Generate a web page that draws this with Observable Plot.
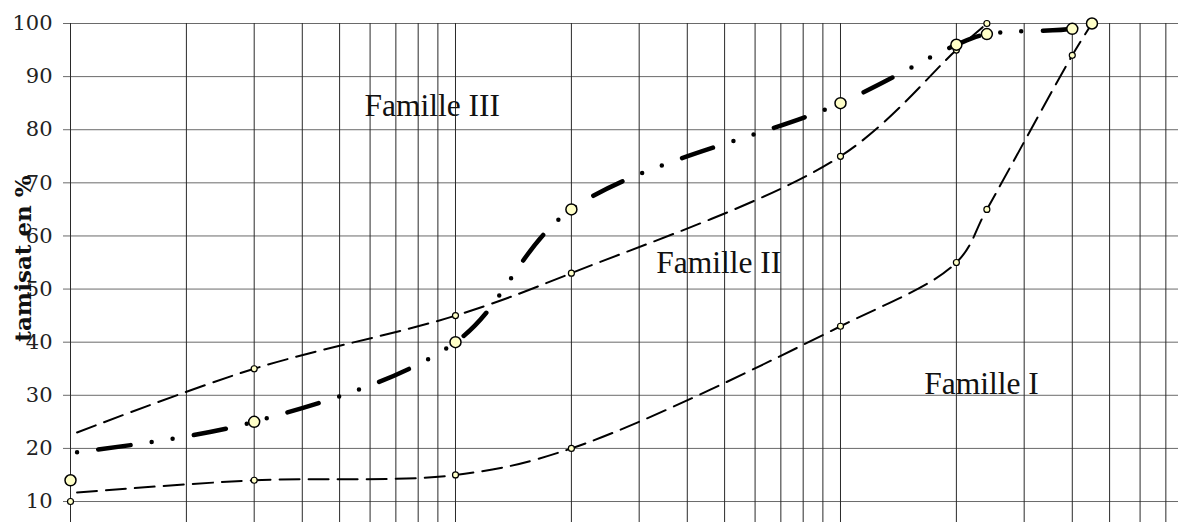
<!DOCTYPE html>
<html><head><meta charset="utf-8">
<script src="https://cdn.jsdelivr.net/npm/d3@7"></script>
<script src="https://cdn.jsdelivr.net/npm/@observablehq/plot@0.6"></script>
<style>body{margin:0;background:#fff}</style>
</head><body><div id="chart"></div>
<script>
// sieve sizes (relative, log scale) and % passing ("tamisat")
const sieves = [0.1, 0.3, 1, 2, 10, 20, 24, 40, 45];
const familleI = [10, 14, 15, 20, 43, 55, 65, 94, 100];
const familleII = [null, 35, 45, 53, 75, 95, 100, null, null];
const familleIII = [14, 25, 40, 65, 85, 96, 98, 99, 100];
// the drawn curves start slightly right of the first sieve
const curveStartSize = 0.104;
const curveStartI = 11.7;
const curveStartII = 23;
const curveStartIII = 19.3;

const yTicks = [10, 20, 30, 40, 50, 60, 70, 80, 90, 100];
const yTitle = "tamisat en %";
const labelTexts = ["Famille III", "Famille II", "Famille I"];
const labelSizes = [0.58, 3.32, 16.5];
const labelPcts = [84.45, 54.9, 32.05];
const xDomain = [0.1, 75.5];
const yDomain = [6.05, 100];

function curve(start, arr) {
  const pts = [{s: curveStartSize, p: start}];
  sieves.forEach((s, i) => { if (i > 0 && arr[i] != null) pts.push({s, p: arr[i]}); });
  return pts;
}
function marks(arr) {
  return sieves.map((s, i) => ({s, p: arr[i]})).filter(d => d.p != null);
}
const xGrid = d3.scaleLog().domain(xDomain).ticks();
const labels = labelTexts.map((t, i) => ({t, s: labelSizes[i], p: labelPcts[i]}));

const chart = Plot.plot({
  width: 1178, height: 522,
  marginLeft: 70, marginRight: 0, marginTop: 23, marginBottom: 0,
  style: {fontFamily: "DejaVu Serif", background: "#fff"},
  x: {type: "log", domain: xDomain, axis: null},
  y: {domain: yDomain},
  marks: [
    Plot.ruleY(yTicks, {stroke: "#6a6a6a", strokeWidth: 1}),
    Plot.ruleX(xGrid, {stroke: "#2a2a2a", strokeWidth: 1}),
    Plot.axisY({ticks: yTicks, tickSize: 7, tickPadding: 11, stroke: "#6a6a6a", fill: "#222",
      fontSize: 21, fontFamily: "DejaVu Serif", label: null}),
    Plot.text([yTitle], {frameAnchor: "left", textAnchor: "middle", dx: -47, dy: -14.5, rotate: -90,
      fontSize: 23, fontWeight: "bold", fontFamily: "DejaVu Serif", fill: "#111"}),
    Plot.text(labels, {x: "s", y: "p", text: "t", textAnchor: "start", fontSize: 31.5,
      fontFamily: "Liberation Serif", fill: "#111"}),
    Plot.line(curve(curveStartI, familleI), {x: "s", y: "p", curve: "catmull-rom",
      stroke: "#000", strokeWidth: 2, strokeDasharray: "20,9"}),
    Plot.line(curve(curveStartII, familleII), {x: "s", y: "p", curve: "catmull-rom",
      stroke: "#000", strokeWidth: 2, strokeDasharray: "20,9"}),
    Plot.line(curve(curveStartIII, familleIII), {x: "s", y: "p", curve: "catmull-rom",
      stroke: "#000", strokeWidth: 4.5, strokeLinecap: "round",
      strokeDasharray: "0,21.5,32.5,21.5,0,21"}),
    Plot.dot(marks(familleI), {x: "s", y: "p", r: 3, fill: "#ffffc8", stroke: "#000", strokeWidth: 1.2}),
    Plot.dot(marks(familleII), {x: "s", y: "p", r: 3, fill: "#ffffc8", stroke: "#000", strokeWidth: 1.2}),
    Plot.dot(marks(familleIII), {x: "s", y: "p", r: 5.5, fill: "#ffffc8", stroke: "#000", strokeWidth: 1.5})
  ]
});
document.getElementById("chart").appendChild(chart);
</script>
</body></html>
